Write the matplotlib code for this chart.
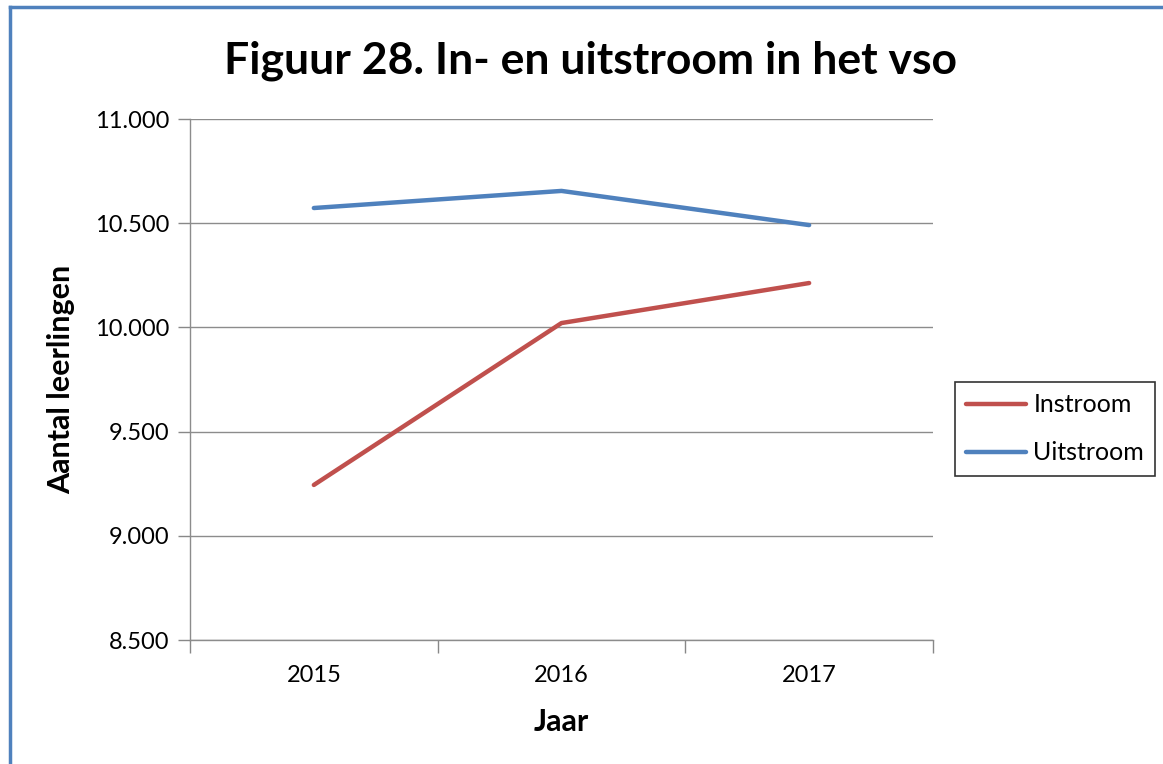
import matplotlib
matplotlib.use("Agg")
import matplotlib.pyplot as plt
from matplotlib.ticker import FuncFormatter, FixedLocator
from matplotlib.lines import Line2D

years = ["2015", "2016", "2017"]
instroom = [9244, 10021, 10213]
uitstroom = [10573, 10655, 10491]
series_names = ["Instroom", "Uitstroom"]
yticks = [8500, 9000, 9500, 10000, 10500, 11000]

plt.rcParams['font.family'] = ['Lato', 'DejaVu Sans']

fig = plt.figure(figsize=(11.63, 7.64), dpi=100)
ax = fig.add_axes([0.1634, 0.1623, 0.8022 - 0.1634, 0.8442 - 0.1623])

x = list(range(len(years)))
red = "#C0504D"
blue = "#4F81BD"
ax.plot(x, instroom, color=red, lw=3.2, solid_capstyle='round', label=series_names[0])
ax.plot(x, uitstroom, color=blue, lw=3.2, solid_capstyle='round', label=series_names[1])

ax.set_xlim(-0.5, len(years) - 0.5)
ax.set_ylim(8500, 11000)
ax.set_yticks(yticks)
ax.yaxis.set_major_formatter(FuncFormatter(lambda v, p: f"{int(v):,}".replace(",", ".")))
ax.set_xticks(x)
ax.set_xticklabels(years)
ax.xaxis.set_minor_locator(FixedLocator([i - 0.5 for i in range(len(years) + 1)]))
ax.tick_params(axis='x', which='major', length=0, pad=18, labelsize=17)
ax.tick_params(axis='x', which='minor', length=9, color='#888888', width=1)
ax.tick_params(axis='y', length=9, color='#888888', width=1, labelsize=17, pad=6)

ax.grid(axis='y', color='#8c8c8c', lw=1)
ax.set_axisbelow(True)
for s in ['top', 'right']:
    ax.spines[s].set_visible(False)
for s in ['left', 'bottom']:
    ax.spines[s].set_color('#8c8c8c')
    ax.spines[s].set_linewidth(1)

ax.set_xlabel("Jaar", fontsize=22, fontweight='bold', labelpad=16)
ax.set_ylabel("Aantal leerlingen", fontsize=22, fontweight='bold', labelpad=14)

fig.text(0.508, 0.92, "Figuur 28. In- en uitstroom in het vso", ha='center', va='center',
         fontsize=32, fontweight='bold')

leg = fig.legend(loc='center', bbox_to_anchor=(1055 / 1163, 1 - 429 / 764), frameon=True,
                 fontsize=18, handlelength=2.4, fancybox=False, edgecolor='black',
                 borderpad=0.45, labelspacing=1.0, handletextpad=0.3)
leg.get_frame().set_linewidth(1.2)

# blue frame (left and top edges)
fig.add_artist(Line2D([9.5 / 1163, 9.5 / 1163], [0, 1 - 7 / 764], transform=fig.transFigure,
                      color=blue, lw=2.5))
fig.add_artist(Line2D([9.5 / 1163, 1], [1 - 7 / 764, 1 - 7 / 764], transform=fig.transFigure,
                      color=blue, lw=2.5))

fig.savefig("out.png", dpi=100)
